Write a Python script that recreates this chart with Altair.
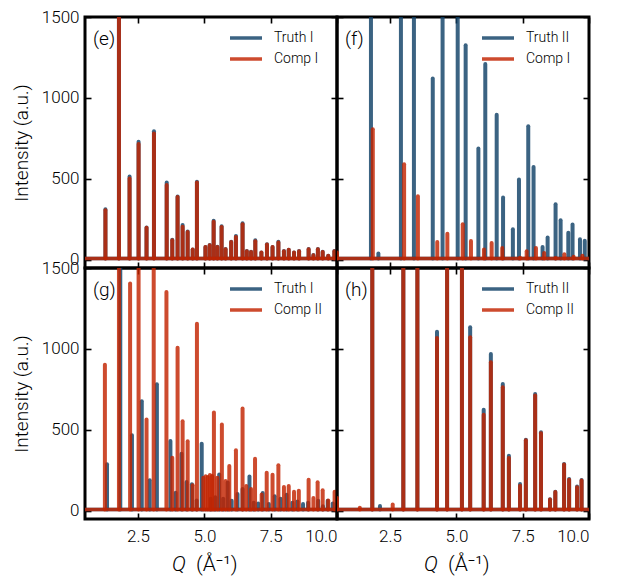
import altair as alt
import pandas as pd

BLUE = "#104166"
RED = "#c22300"
ALPHA = 0.82
FONT = "Roboto"
FW = 300
XMIN, XMAX = 0.5, 10.0
YMIN, YMAX = -50, 1500
XTICKS = [2.5, 5.0, 7.5, 10.0]
YTICKS = [0, 500, 1000, 1500]
BASE = 8
W, H = 252, 251

# ---- panel (e): Truth I vs Comp I ----
e_q = [1.27, 1.78, 2.18, 2.52, 2.82, 3.10, 3.58, 3.79, 3.99, 4.18, 4.37, 4.56, 4.72,
       5.04, 5.20, 5.35, 5.49, 5.65, 5.80, 6.01, 6.19, 6.44, 6.60, 6.76, 6.92, 7.15,
       7.36, 7.57, 7.79, 8.00, 8.18, 8.38, 8.57, 8.93, 9.11, 9.28, 9.46, 9.67, 9.90]
e_truth_h = [313, 2700, 515, 730, 200, 795, 478, 124, 392, 215, 175, 65, 482,
             80, 92, 242, 81, 208, 67, 112, 148, 226, 55, 50, 122, 46,
             96, 80, 112, 55, 63, 46, 55, 67, 30, 67, 50, 26, 55]
e_comp_h = [307, 2600, 502, 715, 198, 780, 462, 122, 389, 205, 173, 64, 478,
            79, 91, 236, 80, 203, 66, 111, 142, 220, 54, 49, 115, 45,
            95, 79, 108, 54, 62, 45, 54, 66, 29, 66, 49, 25, 54]

# ---- panel (f): Truth II vs Comp I ----
f_truth_q = [1.78, 2.06, 2.91, 3.40, 4.11, 4.48, 5.05, 5.35, 5.83, 6.09, 6.52, 6.76,
             7.13, 7.36, 7.71, 7.91, 8.25, 8.44, 8.74, 8.93, 9.22, 9.38, 9.66, 9.84]
f_truth_h = [4000, 39, 3000, 2600, 1120, 2800, 2500, 1326, 688, 1209, 896, 385,
             190, 496, 826, 574, 80, 138, 344, 245, 167, 218, 128, 119]
f_comp_q = [0.50, 1.85, 3.03, 3.55, 4.28, 4.66, 5.24, 5.55, 6.04, 6.33, 6.73, 7.40,
            7.65, 8.00, 8.31, 8.74, 9.07, 9.42, 9.75]
f_comp_h = [45, 807, 591, 393, 111, 162, 220, 117, 64, 105, 74, 14,
            54, 74, 43, 12, 35, 19, 25]

# ---- panel (g): Truth I vs Comp II ----
g_truth_q = [1.33, 1.83, 2.27, 2.64, 2.94, 3.21, 3.72, 3.92, 4.14, 4.33, 4.53, 4.71,
             4.90, 5.24, 5.41, 5.56, 5.71, 5.88, 6.03, 6.25, 6.44, 6.70, 6.86, 7.03,
             7.20, 7.43, 7.65, 7.87, 8.10, 8.32, 8.51, 8.72, 8.91, 9.29, 9.47, 9.65, 9.84]
g_truth_h = [288, 2600, 467, 677, 189, 782, 432, 112, 353, 178, 164, 65,
             415, 75, 85, 225, 75, 175, 62, 105, 135, 212, 50, 46,
             110, 42, 90, 75, 100, 50, 58, 42, 50, 62, 28, 62, 46]
g_comp_q = [1.25, 1.78, 2.20, 2.52, 2.82, 3.09, 3.57, 3.79, 3.99, 4.18, 4.37, 4.56,
            4.72, 4.96, 5.05, 5.13, 5.21, 5.29, 5.36, 5.49, 5.66, 5.80, 5.94, 6.19,
            6.44, 6.58, 6.76, 6.91, 7.16, 7.35, 7.57, 7.79, 8.00, 8.18, 8.38, 8.56,
            8.93, 9.11, 9.27, 9.46, 9.67, 9.91]
g_comp_h = [903, 3500, 1404, 2100, 564, 2300, 1352, 329, 1008, 553, 430, 158,
            1156, 205, 214, 210, 222, 215, 607, 205, 533, 185, 277, 375,
            632, 154, 135, 322, 102, 236, 224, 282, 148, 154, 118, 125,
            193, 80, 177, 128, 64, 118]

# ---- panel (h): Truth II vs Comp II ----
h_truth_q = [1.83, 2.12, 3.00, 3.53, 4.27, 4.65, 5.21, 5.52, 6.03, 6.30, 6.75, 6.98,
             7.40, 7.62, 7.97, 8.19, 8.53, 8.73, 9.06, 9.25, 9.55, 9.72]
h_truth_h = [4000, 30, 3000, 2600, 1107, 2800, 2500, 1134, 625, 969, 784, 341,
             166, 440, 722, 485, 72, 119, 290, 197, 150, 191]
h_comp_q = [0.50, 1.36, 1.83, 2.60, 3.00, 3.53, 4.27, 4.65, 5.21, 5.52, 6.03, 6.30,
            6.75, 6.98, 7.40, 7.62, 7.97, 8.19, 8.53, 8.73, 9.06, 9.25, 9.55, 9.72]
h_comp_h = [80, 20, 4000, 40, 3000, 2600, 1068, 2800, 2500, 1072, 594, 918,
            763, 327, 156, 436, 712, 480, 70, 116, 286, 193, 146, 187]


def tick_axis(orient, values):
    return alt.Axis(orient=orient, values=values, labels=False, domain=False, grid=False,
                    ticks=True, tickSize=6, tickWidth=1.6, tickColor="black",
                    offset=-6, title=None)


def panel(tag, truth_label, comp_label, tq, th, cq, ch, show_x, show_y):
    xs = alt.Scale(domain=[XMIN, XMAX], nice=False, zero=False)
    ys = alt.Scale(domain=[YMIN, YMAX], nice=False, zero=False)
    tdf = pd.DataFrame({"q": tq, "h": th, "base": BASE})
    cdf = pd.DataFrame({"q": cq, "h": ch, "base": BASE})
    bdf = pd.DataFrame({"x0": [XMIN], "x1": [XMAX], "y": [BASE]})

    if show_x:
        xlab = alt.Axis(orient="bottom", values=XTICKS, format=".1f", ticks=False,
                        domain=False, grid=False, labelFontSize=17, labelPadding=9,
                        labelFontWeight=FW, title=None)
    else:
        xlab = None
    if show_y:
        ylab = alt.Axis(orient="left", values=YTICKS, format="d", ticks=False,
                        domain=False, grid=False, labelFontSize=17, labelPadding=6,
                        labelFontWeight=FW,
                        title="Intensity (a.u.)", titleFontSize=19,
                        titleFontWeight=FW, titlePadding=10)
    else:
        ylab = None

    base_t = alt.Chart(bdf).mark_rule(color=BLUE, strokeWidth=3.5, opacity=ALPHA).encode(
        x=alt.X("x0:Q", scale=xs, axis=tick_axis("top", XTICKS)),
        x2="x1:Q",
        y=alt.Y("y:Q", scale=ys, axis=tick_axis("right", YTICKS)),
    )
    truth = alt.Chart(tdf).mark_rule(color=BLUE, strokeWidth=4, opacity=ALPHA,
                                     strokeCap="round", clip=True).encode(
        x=alt.X("q:Q", scale=xs, axis=xlab),
        y=alt.Y("base:Q", scale=ys, axis=ylab),
        y2="h:Q",
    )
    base_c = alt.Chart(bdf).mark_rule(color=RED, strokeWidth=3.5, opacity=ALPHA).encode(
        x=alt.X("x0:Q", scale=xs, axis=None),
        x2="x1:Q",
        y=alt.Y("y:Q", scale=ys, axis=None),
    )
    comp = alt.Chart(cdf).mark_rule(color=RED, strokeWidth=4, opacity=ALPHA,
                                    strokeCap="round", clip=True).encode(
        x=alt.X("q:Q", scale=xs, axis=tick_axis("bottom", XTICKS)),
        y=alt.Y("base:Q", scale=ys, axis=tick_axis("left", YTICKS)),
        y2="h:Q",
    )
    tag_t = alt.Chart(pd.DataFrame({"t": [tag]})).mark_text(
        align="left", baseline="middle", fontSize=19, font=FONT, fontWeight=FW,
        color="black"
    ).encode(x=alt.value(8), y=alt.value(22), text="t:N")

    layers = [base_t, truth, base_c, comp, tag_t]
    # legend drawn inside the panel
    for i, (lab, col) in enumerate([(truth_label, BLUE), (comp_label, RED)]):
        ly = 21 + 21 * i
        ldf = pd.DataFrame({"t": [lab]})
        layers.append(alt.Chart(ldf).mark_rule(color=col, strokeWidth=3.5, opacity=ALPHA).encode(
            x=alt.value(145), x2=alt.value(177), y=alt.value(ly)))
        layers.append(alt.Chart(ldf).mark_text(
            align="left", baseline="middle", fontSize=14, font=FONT, fontWeight=FW,
            color="black"
        ).encode(x=alt.value(189), y=alt.value(ly), text="t:N"))

    if show_x:
        qdf = pd.DataFrame({"t": ["Q"]})
        udf = pd.DataFrame({"t": ["(Å⁻¹)"]})
        layers.append(alt.Chart(qdf).mark_text(
            align="center", baseline="middle", fontSize=21, font=FONT, fontWeight=FW,
            fontStyle="italic", color="black"
        ).encode(x=alt.value(W / 2 - 32), y=alt.value(H + 46), text="t:N"))
        layers.append(alt.Chart(udf).mark_text(
            align="left", baseline="middle", fontSize=21, font=FONT, fontWeight=FW,
            color="black"
        ).encode(x=alt.value(W / 2 - 15), y=alt.value(H + 46), text="t:N"))

    return alt.layer(*layers).properties(width=W, height=H).resolve_axis(
        x="independent", y="independent")


pe = panel("(e)", "Truth I", "Comp I", e_q, e_truth_h, e_q, e_comp_h, False, True)
pf = panel("(f)", "Truth II", "Comp I", f_truth_q, f_truth_h, f_comp_q, f_comp_h, False, False)
pg = panel("(g)", "Truth I", "Comp II", g_truth_q, g_truth_h, g_comp_q, g_comp_h, True, True)
ph = panel("(h)", "Truth II", "Comp II", h_truth_q, h_truth_h, h_comp_q, h_comp_h, True, False)

chart = alt.ConcatChart(concat=[pe, pf, pg, ph], columns=2, spacing=0, bounds="flush").properties(
    padding={"left": 2, "top": -2, "right": 5, "bottom": 5}
).configure(font=FONT).configure_view(stroke="black", strokeWidth=3)

chart.save("out.html", embed_options={"renderer": "svg", "actions": False})
